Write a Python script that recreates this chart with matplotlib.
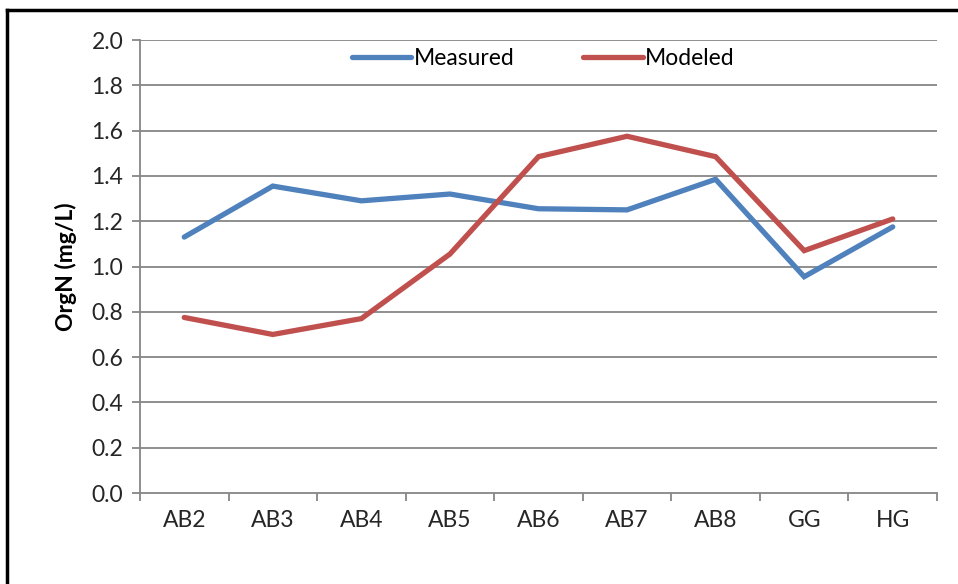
import matplotlib
matplotlib.use("Agg")
import matplotlib.pyplot as plt
import numpy as np
from matplotlib.lines import Line2D

# station names and OrgN values (mg/L)
stations = ["AB2", "AB3", "AB4", "AB5", "AB6", "AB7", "AB8", "GG", "HG"]
measured = [1.13, 1.355, 1.29, 1.32, 1.255, 1.25, 1.385, 0.955, 1.175]
modeled = [0.775, 0.70, 0.77, 1.055, 1.485, 1.575, 1.485, 1.07, 1.21]
yticks = [0.0, 0.2, 0.4, 0.6, 0.8, 1.0, 1.2, 1.4, 1.6, 1.8, 2.0]

plt.rcParams['font.family'] = ['Lato', 'DejaVu Sans']

fig = plt.figure(figsize=(9.58, 5.84), dpi=100)
ax = fig.add_axes([0.1461, 0.1558, 0.832, 0.7757])

x = np.arange(len(stations))
gc = "#868686"

for t in yticks[1:]:
    ax.axhline(t, color=gc, lw=1.3, zorder=1)

ax.plot(x, measured, color="#4F81BD", lw=3.8, label="Measured", zorder=3,
        solid_capstyle="round", solid_joinstyle="miter")
ax.plot(x, modeled, color="#C0504D", lw=3.8, label="Modeled", zorder=3,
        solid_capstyle="round", solid_joinstyle="miter")

ax.set_xlim(-0.5, len(stations) - 0.5)
ax.set_ylim(0, 2.0)
ax.set_yticks(yticks)
ax.set_yticklabels(["%.1f" % t for t in yticks], fontsize=16.5, color="#262626")
ax.set_xticks(x)
ax.set_xticklabels(stations, fontsize=16.5, color="#262626")
ax.set_xticks(np.arange(-0.5, len(stations)), minor=True)
ax.tick_params(axis="x", which="major", length=0, pad=12)
ax.tick_params(axis="x", which="minor", length=6, color=gc, width=1.3)
ax.tick_params(axis="y", length=6, color=gc, width=1.3, pad=6)

for s in ["top", "right"]:
    ax.spines[s].set_visible(False)
for s in ["left", "bottom"]:
    ax.spines[s].set_color(gc)
    ax.spines[s].set_linewidth(1.3)

ax.set_ylabel("OrgN (mg/L)", fontsize=16.5, fontweight="bold", labelpad=10)

leg = ax.legend(loc="center", bbox_to_anchor=(0.506, 0.96), ncol=2, frameon=False,
                fontsize=16.5, handlelength=2.6, handletextpad=0.1, columnspacing=3.0)

# figure border: top and left only
fig.add_artist(Line2D([7 / 958, 7 / 958], [0, 1 - 10 / 584], color="black", lw=2.5))
fig.add_artist(Line2D([7 / 958, 1], [1 - 10 / 584, 1 - 10 / 584], color="black", lw=2.5))

fig.savefig("out.png", dpi=100)
